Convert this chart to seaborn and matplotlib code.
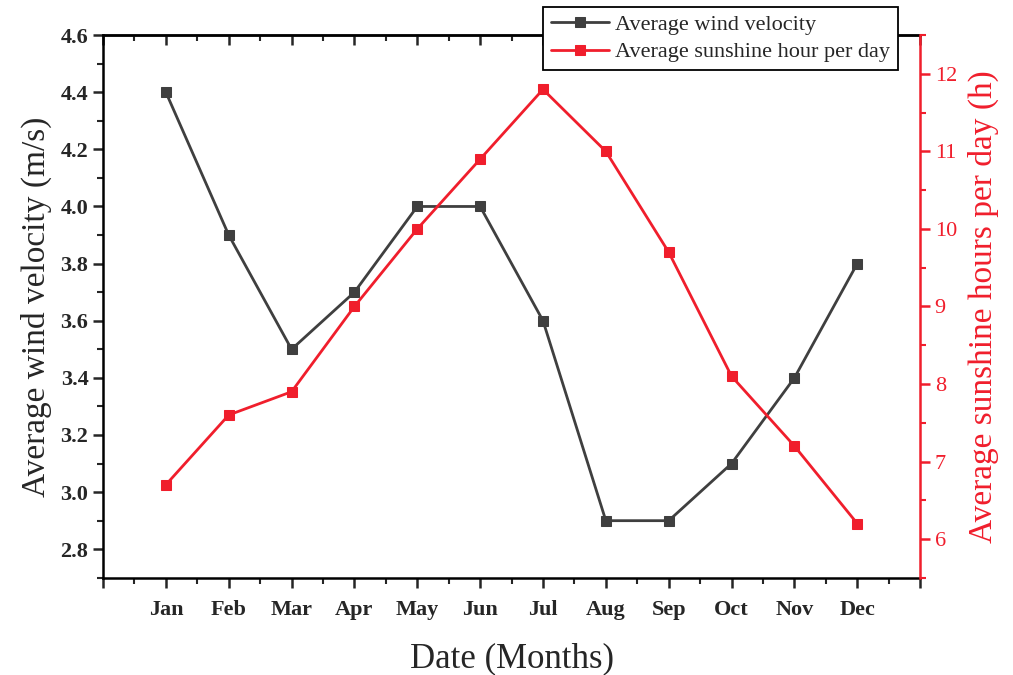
import matplotlib
matplotlib.use("Agg")
import matplotlib.pyplot as plt
import seaborn as sns
import pandas as pd
import numpy as np
from matplotlib.ticker import MultipleLocator, FixedLocator, NullFormatter

months = ["Jan", "Feb", "Mar", "Apr", "May", "Jun", "Jul", "Aug", "Sep", "Oct", "Nov", "Dec"]
wind = [4.4, 3.9, 3.5, 3.7, 4.0, 4.0, 3.6, 2.9, 2.9, 3.1, 3.4, 3.8]
sunshine = [6.7, 7.6, 7.9, 9.0, 10.0, 10.9, 11.8, 11.0, 9.7, 8.1, 7.2, 6.2]

sns.set_style("ticks")
plt.rcParams["font.family"] = ["Liberation Serif", "DejaVu Serif"]
plt.rcParams["mathtext.fontset"] = "stix"

df = pd.DataFrame({"x": np.arange(1, 13), "wind": wind, "sun": sunshine})

fig = plt.figure(figsize=(10.13, 6.75), dpi=100)
ax = fig.add_axes([0.1017, 0.144, 0.9083 - 0.1017, 0.948 - 0.144])
ax2 = ax.twinx()

gray = "#3f3f3f"
red = "#f01e2c"

sns.lineplot(data=df, x="x", y="wind", ax=ax, color=gray, marker="s", markersize=7,
             markeredgecolor=gray, linewidth=2, label="Average wind velocity", legend=False)
sns.lineplot(data=df, x="x", y="sun", ax=ax2, color=red, marker="s", markersize=7,
             markeredgecolor=red, linewidth=2, label="Average sunshine hour per day", legend=False)

ax.set_xlim(0, 13)
ax.set_ylim(2.7, 4.6)
ax2.set_ylim(5.5, 12.5)

ax.xaxis.set_major_locator(FixedLocator(np.arange(0, 14)))
ax.xaxis.set_minor_locator(FixedLocator(np.arange(0.5, 13, 1.0)))
ax.set_xticklabels([""] + months + [""])
ax.yaxis.set_major_locator(FixedLocator(np.round(np.arange(2.8, 4.61, 0.2), 1)))
ax.yaxis.set_minor_locator(FixedLocator(np.round(np.arange(2.7, 4.61, 0.1), 1)))
ax.set_yticklabels([f"{v:.1f}" for v in np.arange(2.8, 4.61, 0.2)])
ax2.yaxis.set_major_locator(MultipleLocator(1))
ax2.yaxis.set_minor_locator(MultipleLocator(0.5))

for sp in ["left", "bottom", "top"]:
    ax.spines[sp].set_linewidth(1.8)
    ax.spines[sp].set_color("black")
ax.spines["right"].set_visible(False)
for sp in ["left", "bottom", "top"]:
    ax2.spines[sp].set_visible(False)
ax2.spines["right"].set_visible(True)
ax2.spines["right"].set_color(red)
ax2.spines["right"].set_linewidth(1.8)

ax.tick_params(axis="both", which="major", direction="out", length=7, width=1.8,
               labelsize=16)
ax.tick_params(axis="both", which="minor", direction="out", length=4, width=1.5)
for lbl in ax.get_xticklabels() + ax.get_yticklabels():
    lbl.set_fontweight("bold")
ax.tick_params(axis="x", which="major", pad=9)

# top ticks pointing inward
top = ax.secondary_xaxis("top")
top.xaxis.set_major_locator(FixedLocator(np.arange(0, 14)))
top.xaxis.set_minor_locator(FixedLocator(np.arange(0.5, 13, 1.0)))
top.xaxis.set_major_formatter(NullFormatter())
top.tick_params(which="major", direction="in", length=7, width=1.8)
top.tick_params(which="minor", direction="in", length=4, width=1.5)
top.spines["top"].set_linewidth(1.8)

ax2.tick_params(axis="y", which="major", direction="out", length=7, width=1.8,
                colors=red, labelsize=16)
ax2.tick_params(axis="y", which="minor", direction="out", length=4, width=1.5, colors=red)

ax.set_xlabel("Date (Months)", fontsize=25, labelpad=16)
ax.set_ylabel("Average wind velocity (m/s)", fontsize=24, labelpad=6)
ax2.set_ylabel("Average sunshine hours per day (h)", fontsize=24, color=red, labelpad=8)

h1, l1 = ax.get_legend_handles_labels()
h2, l2 = ax2.get_legend_handles_labels()
leg = ax2.legend(h1 + h2, l1 + l2, loc="upper left", bbox_to_anchor=(0.536, 0.99),
                 bbox_transform=fig.transFigure, fontsize=16, frameon=True, fancybox=False,
                 framealpha=1, edgecolor="black", borderpad=0.35, labelspacing=0.3,
                 handlelength=2.6, handletextpad=0.3, borderaxespad=0)
leg.get_frame().set_linewidth(1.3)

fig.savefig("out.png", dpi=100)
